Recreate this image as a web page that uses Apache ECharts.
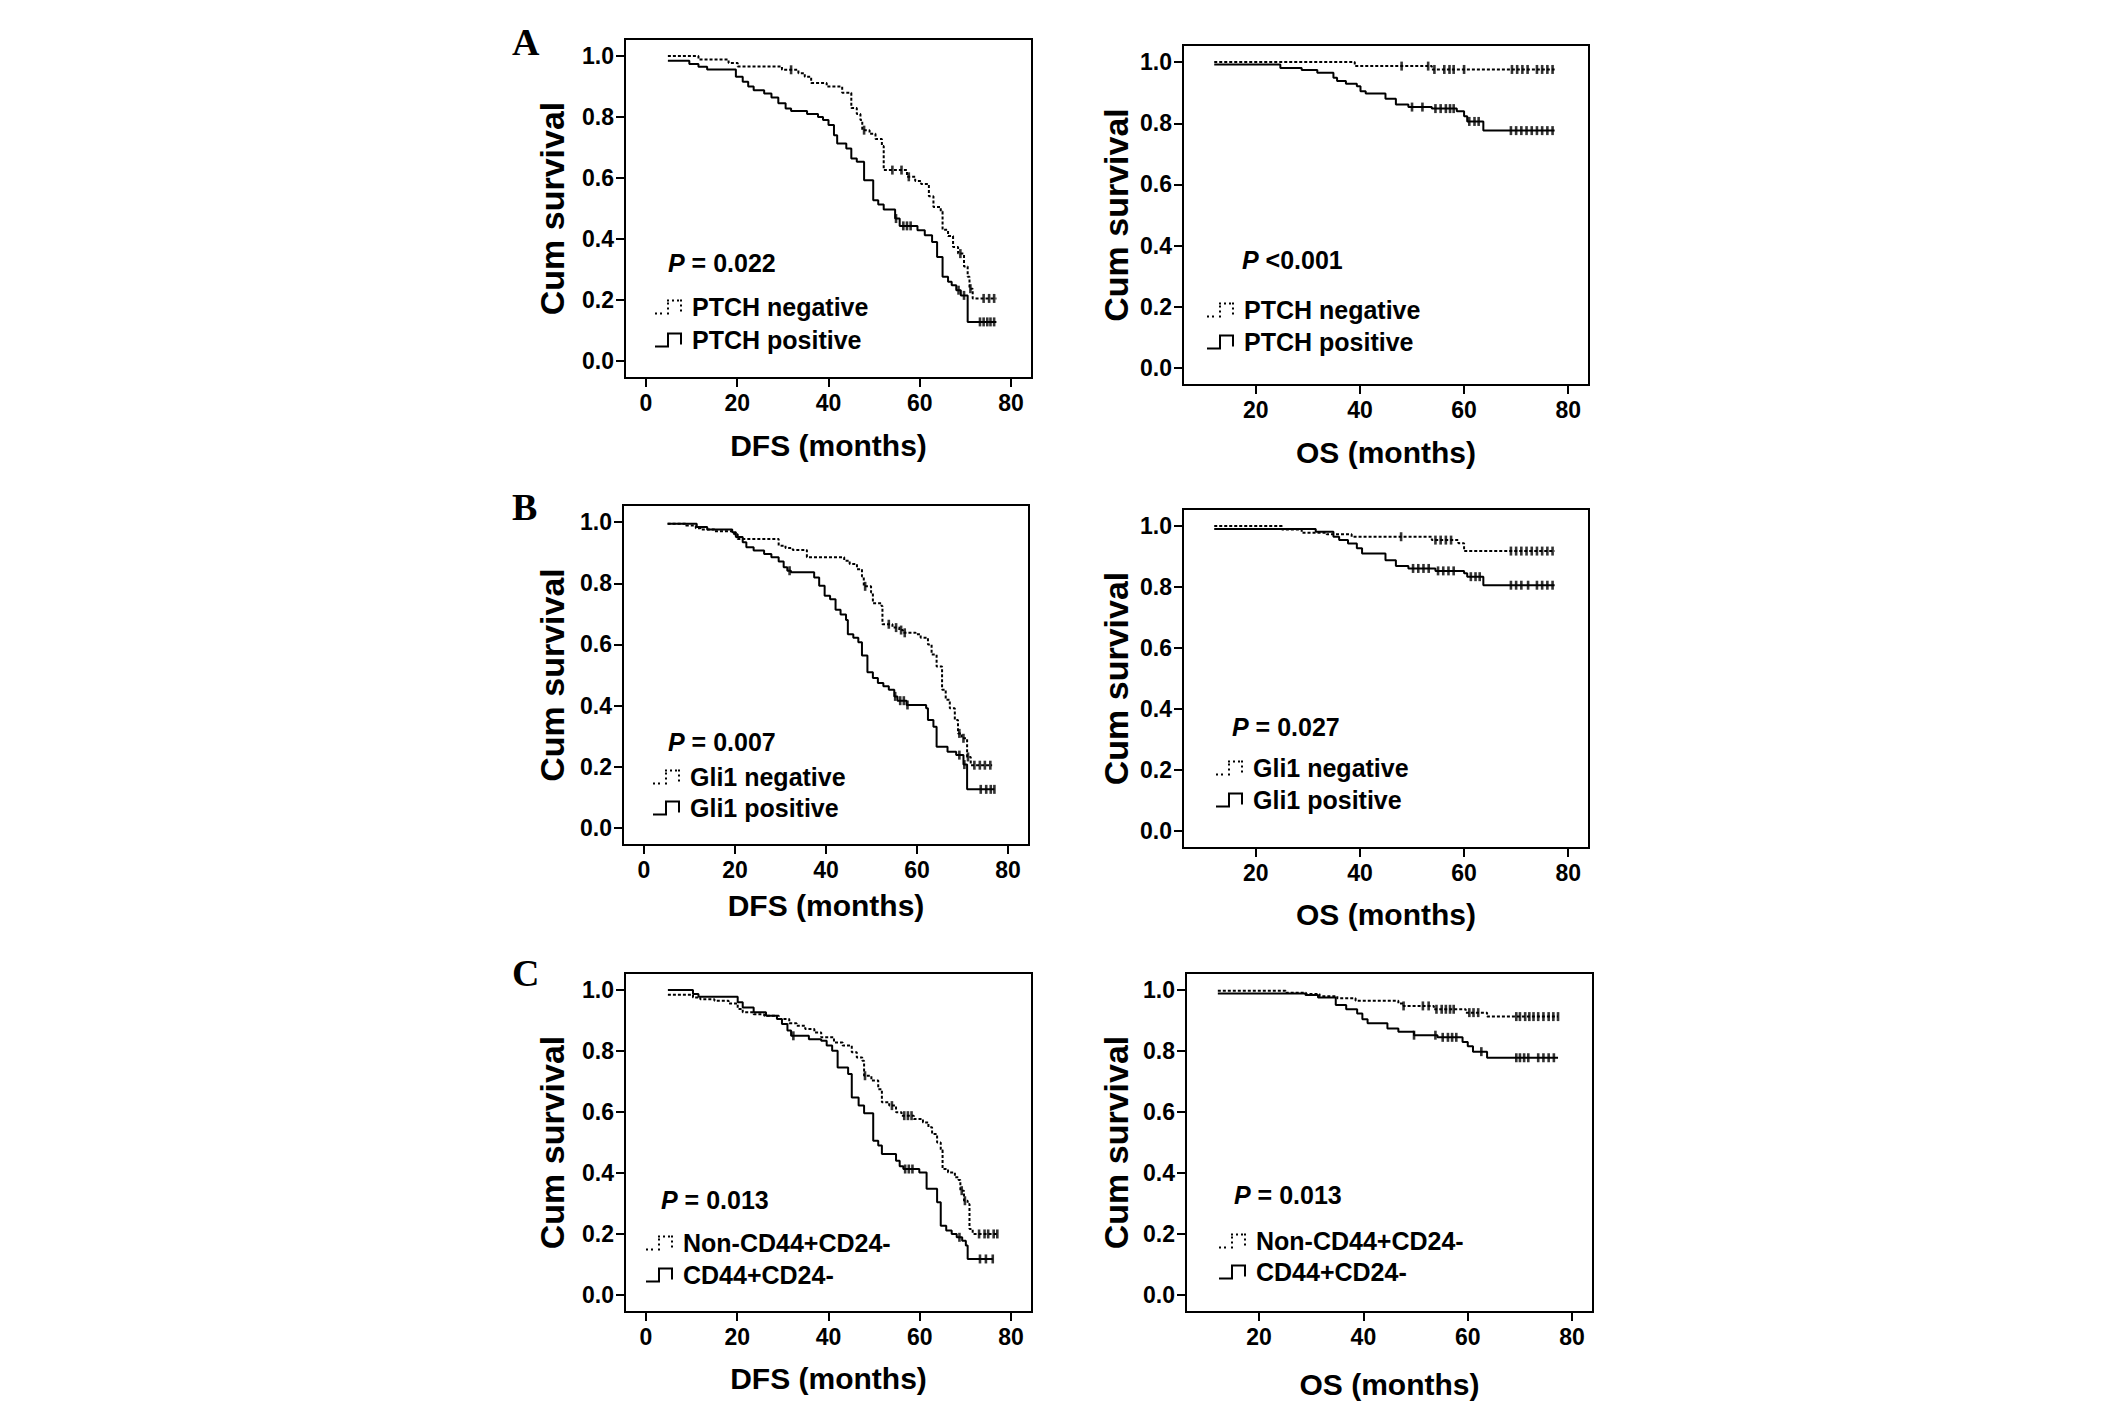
<!DOCTYPE html>
<html><head><meta charset="utf-8">
<script src="https://cdn.jsdelivr.net/npm/echarts@6/dist/echarts.min.js"></script>
<style>html,body{margin:0;padding:0;background:#fff}#c{width:2126px;height:1409px}</style>
</head><body><div id="c"></div>
<script>
// ---------------- DATA ----------------
// Kaplan-Meier step points: [month, cumulative survival] (value after the drop)
// Censor marks: months at which a "+" is drawn on the curve
const yTicks = [0, 0.2, 0.4, 0.6, 0.8, 1.0];
const dfsTicks = [0, 20, 40, 60, 80];
const osTicks = [20, 40, 60, 80];

// A: PTCH
const ptchNegDFS = [[4.8,1.0],[11.5,0.989],[18.1,0.977],[20.1,0.966],[29.8,0.955],[33.4,0.944],[34.8,0.932],[36.2,0.912],[39.6,0.90],[43,0.88],[45,0.83],[46.2,0.81],[47,0.79],[47.4,0.757],[49,0.745],[50.3,0.728],[51.7,0.705],[52.1,0.626],[57.2,0.604],[59,0.59],[60.3,0.58],[62,0.54],[63,0.505],[64.6,0.49],[65,0.43],[66.2,0.41],[67.3,0.374],[68.4,0.352],[69.7,0.31],[70.5,0.276],[70.9,0.237],[71.6,0.205],[76.8,0.205]];
const ptchNegDFSCens = [31.8,47.8,54,56,57.6,68.9,71.1,74,75.2,76.3];
const ptchPosDFS = [[4.8,0.985],[9.5,0.974],[11.5,0.965],[13.4,0.956],[19.7,0.932],[21.2,0.916],[22.4,0.90],[23.6,0.888],[25.9,0.877],[27.5,0.864],[29,0.845],[30.6,0.828],[31.8,0.82],[35.3,0.81],[37.7,0.80],[38.8,0.79],[40,0.774],[41.2,0.74],[41.9,0.713],[43.9,0.697],[45,0.664],[46.2,0.653],[47.8,0.593],[49.8,0.527],[50.9,0.513],[52.1,0.497],[54.6,0.467],[55.6,0.443],[59.5,0.429],[61.1,0.412],[62.7,0.39],[63.8,0.341],[65,0.276],[66.2,0.26],[67,0.248],[68,0.232],[69,0.215],[70.5,0.128],[76.8,0.128]];
const ptchPosDFSCens = [54.8,56.4,57.2,58,68.5,69.7,73.2,74,74.8,75.5,76.3];
const ptchNegOS = [[12,1.0],[39,0.987],[53.8,0.976],[77.4,0.976]];
const ptchNegOSCens = [48,53.1,54.3,56.2,57.2,58,60,69.2,70.2,71.2,72.2,74,75,76,77];
const ptchPosOS = [[12,0.992],[24.7,0.981],[28.8,0.974],[31.8,0.965],[34.9,0.949],[35.6,0.938],[37.3,0.929],[39.4,0.921],[40.1,0.905],[41.1,0.897],[44.9,0.88],[46.9,0.861],[49.3,0.853],[53.8,0.848],[58.6,0.839],[60,0.823],[60.6,0.806],[63.7,0.776],[77.4,0.776]];
const ptchPosOSCens = [50,52,54.5,55.5,56.5,57.3,58,61,62,62.8,69,70,71,72,73,74,75,76,77];

// B: Gli1
const gliNegDFS = [[5.2,0.995],[9.2,0.989],[11.4,0.98],[12.4,0.976],[15.5,0.97],[19.8,0.96],[20.6,0.945],[29.6,0.923],[31.1,0.915],[32.7,0.909],[35.8,0.885],[44,0.874],[45.2,0.863],[46.8,0.846],[47.9,0.822],[48.3,0.79],[49.9,0.77],[50.3,0.735],[52.2,0.726],[52.4,0.666],[54.6,0.655],[56.1,0.647],[56.9,0.638],[59.7,0.633],[60.8,0.622],[62.4,0.60],[63.2,0.567],[64.3,0.528],[65.5,0.452],[66.3,0.419],[67.2,0.391],[68.3,0.353],[69,0.309],[69.8,0.293],[71,0.232],[71.8,0.205],[76.5,0.205]];
const gliNegDFSCens = [48.6,53.8,55.4,56.5,57.3,69.3,70.2,71.2,72.6,73.8,74.9,76.1];
const gliPosDFS = [[5.2,0.995],[11.6,0.984],[13.9,0.976],[19.4,0.967],[20.2,0.951],[21.7,0.934],[22.5,0.918],[24.1,0.907],[26.4,0.896],[28,0.885],[29.6,0.871],[30.7,0.852],[31.5,0.841],[32.3,0.836],[37.4,0.819],[38.5,0.792],[39.7,0.759],[40.9,0.748],[42.1,0.713],[43.2,0.698],[44.4,0.68],[44.8,0.633],[46,0.622],[47.1,0.607],[47.9,0.564],[49.1,0.509],[50.3,0.49],[51.4,0.474],[52.6,0.463],[53.8,0.452],[55,0.43],[55.7,0.416],[57.7,0.402],[62,0.391],[62.4,0.353],[63.6,0.331],[64.3,0.265],[66.7,0.249],[68.6,0.238],[70.2,0.207],[71,0.126],[77,0.126]];
const gliPosDFSCens = [32,55.2,56.3,57.1,57.9,69.3,70.4,74,75.2,76.2,77];
const gliNegOS = [[12,1.0],[25,0.989],[28.8,0.978],[33.6,0.973],[38.4,0.965],[53.8,0.954],[58.9,0.944],[60,0.918],[77.4,0.918]];
const gliNegOSCens = [47.9,54.5,55.5,56.5,57.5,69,70,71,72,73,74,75,76,77];
const gliPosOS = [[12,0.99],[31.5,0.981],[34.9,0.965],[36,0.954],[37.7,0.943],[39.4,0.927],[40.4,0.91],[44.9,0.888],[46.9,0.869],[49.3,0.861],[54.5,0.853],[60,0.845],[60.6,0.834],[63.7,0.806],[77.4,0.806]];
const gliPosOSCens = [50.2,51.2,52.2,53.2,55,56,57,58,61.3,62.2,63,69,70,71,72.3,74,75,76,77];

// C: CD44+CD24-
const cdNegDFS = [[4.8,0.985],[10.3,0.976],[11.9,0.97],[15,0.965],[18.1,0.956],[20.1,0.938],[21.2,0.927],[23.6,0.921],[25.9,0.916],[29.1,0.905],[31.4,0.891],[33,0.883],[34.9,0.872],[36.9,0.861],[38.4,0.845],[41.2,0.828],[43.1,0.818],[45.1,0.796],[46.2,0.779],[47.4,0.768],[47.8,0.719],[49.4,0.703],[50.9,0.675],[51.7,0.632],[53.3,0.621],[54.8,0.599],[56,0.588],[58.7,0.577],[60.7,0.566],[61.9,0.55],[62.7,0.528],[63.8,0.50],[64.6,0.475],[65,0.413],[66.2,0.402],[67.7,0.386],[68.5,0.377],[68.9,0.342],[69.7,0.309],[70.5,0.298],[70.9,0.216],[71.6,0.20],[77,0.20]];
const cdNegDFSCens = [48,53.9,56.6,57.4,58.2,69.2,69.9,73,74.2,75,76.2,77];
const cdPosDFS = [[4.8,1.0],[10.3,0.987],[11.5,0.978],[20.1,0.96],[21.2,0.943],[23.6,0.927],[26.3,0.916],[28.7,0.905],[29.8,0.889],[31,0.867],[31.8,0.85],[35.7,0.839],[38.4,0.834],[39.6,0.818],[40.8,0.801],[42,0.746],[44.3,0.725],[45.1,0.648],[46.6,0.621],[47.8,0.596],[49.8,0.506],[50.9,0.49],[51.7,0.462],[54.8,0.44],[55.6,0.422],[56.4,0.413],[59.9,0.402],[61.5,0.348],[63.8,0.304],[64.6,0.227],[65.8,0.211],[67,0.20],[68.1,0.189],[69.3,0.178],[70.1,0.162],[70.5,0.118],[76,0.118]];
const cdPosDFSCens = [32.3,56.8,57.6,58.4,68.7,73.2,74.5,76];
const cdNegOS = [[12.1,0.998],[25.1,0.991],[29,0.987],[31.6,0.98],[35,0.973],[38.5,0.965],[46.7,0.956],[47.7,0.948],[53.5,0.937],[59.6,0.926],[63.7,0.913],[77.3,0.913]];
const cdNegOSCens = [47.7,51.4,52.5,54,55,55.8,56.6,57.3,60.3,61.1,62,69.3,70,71,71.8,72.6,73.5,74.5,75.5,76.4,77.3];
const cdPosOS = [[12.1,0.989],[28.9,0.984],[31.3,0.976],[34.7,0.951],[36.7,0.937],[38.8,0.923],[39.8,0.904],[40.8,0.891],[44.6,0.874],[46.7,0.863],[49.7,0.852],[54.2,0.845],[59,0.83],[60,0.816],[61,0.798],[63.7,0.778],[77.3,0.778]];
const cdPosOSCens = [49.7,53.8,55.2,56.2,57,57.8,62.6,69.3,70,70.8,71.6,73.5,74.5,75.5,76.5];

const groupNames = [['PTCH negative','PTCH positive'],['Gli1 negative','Gli1 positive'],['Non-CD44+CD24-','CD44+CD24-']];
const pValues = ['= 0.022','<0.001','= 0.007','= 0.027','= 0.013','= 0.013'];
const panelLetters = ['A','B','C'];

// ---------------- LAYOUT ----------------
const FONT = '"Liberation Sans", Arial, Helvetica, sans-serif';
const SERIF = '"Liberation Serif", "Times New Roman", serif';
const panels = [
  {g:[625,39,407,339], dfs:true, neg:ptchNegDFS, negC:ptchNegDFSCens, pos:ptchPosDFS, posC:ptchPosDFSCens, grp:0, p:0, yGap:56, xGap:52, pPos:[668,263], leg:[655,307,33]},
  {g:[1183,45,406,340], dfs:false, neg:ptchNegOS, negC:ptchNegOSCens, pos:ptchPosOS, posC:ptchPosOSCens, grp:0, p:1, yGap:50, xGap:52, pPos:[1242,260], leg:[1207,310,32]},
  {g:[623,505,406,340], dfs:true, neg:gliNegDFS, negC:gliNegDFSCens, pos:gliPosDFS, posC:gliPosDFSCens, grp:1, p:2, yGap:54, xGap:45, pPos:[668,742], leg:[653,777,31]},
  {g:[1183,509,406,339], dfs:false, neg:gliNegOS, negC:gliNegOSCens, pos:gliPosOS, posC:gliPosOSCens, grp:1, p:3, yGap:50, xGap:51, pPos:[1232,727], leg:[1216,768,32]},
  {g:[625,973,407,339], dfs:true, neg:cdNegDFS, negC:cdNegDFSCens, pos:cdPosDFS, posC:cdPosDFSCens, grp:2, p:4, yGap:56, xGap:51, pPos:[661,1200], leg:[646,1243,32]},
  {g:[1186,973,407,339], dfs:false, neg:cdNegOS, negC:cdNegOSCens, pos:cdPosOS, posC:cdPosOSCens, grp:2, p:5, yGap:53, xGap:57, pPos:[1234,1195], leg:[1219,1241,31]}
];
const letterPos = [[512,23],[512,488],[512,954]];

function survAt(steps, t) {
  let s = steps[0][1];
  for (const [ti, si] of steps) { if (ti <= t) s = si; else break; }
  return s;
}
function dotsPath(dots) {
  return 'path://' + dots.map(([x,y]) => `M${x},${y}L${x+2},${y}L${x+2},${y+2}L${x},${y+2}Z`).join(' ');
}
const SOLID_ICON = 'path://M0,13L13,13L13,15L0,15Z M12,0L14,0L14,15L12,15Z M12,0L27,0L27,2L12,2Z M25,0L27,0L27,12L25,12Z';
const DOTTED_ICON = dotsPath([[0,13],[5,13],[12,13],[12,8],[12,3],[12,0],[17,0],[22,0],[25,0],[25,5],[25,10]]);

const grids = [], xAxes = [], yAxes = [], series = [], legends = [], titles = [];
const lblStyle = {fontFamily: FONT, fontWeight: 'bold', color: '#000'};

panels.forEach((p, i) => {
  grids.push({left:p.g[0], top:p.g[1], width:p.g[2], height:p.g[3], show:true, borderColor:'#000', borderWidth:2, backgroundColor:'rgba(0,0,0,0)', containLabel:false, outerBoundsMode:'none'});
  const ticks = p.dfs ? dfsTicks : osTicks;
  xAxes.push({type:'value', gridIndex:i, min: p.dfs ? -4.6 : 6, max: p.dfs ? 84.6 : 84,
    axisLine:{show:false, onZero:false},
    axisTick:{show:true, length:9, customValues:ticks, lineStyle:{color:'#000', width:2}},
    axisLabel:Object.assign({customValues:ticks, margin:13, fontSize:23, formatter:v => String(v)}, lblStyle),
    splitLine:{show:false},
    name: p.dfs ? 'DFS (months)' : 'OS (months)', nameLocation:'middle', nameGap:p.xGap,
    nameTextStyle:Object.assign({fontSize:30}, lblStyle)});
  yAxes.push({type:'value', gridIndex:i, min:-0.056, max:1.056,
    axisLine:{show:false, onZero:false},
    axisTick:{show:true, length:9, customValues:yTicks, lineStyle:{color:'#000', width:2}},
    axisLabel:Object.assign({customValues:yTicks, margin:11, fontSize:23, formatter:v => v.toFixed(1)}, lblStyle),
    splitLine:{show:false},
    name:'Cum survival', nameLocation:'middle', nameRotate:90, nameGap:p.yGap,
    nameTextStyle:Object.assign({fontSize:34}, lblStyle)});
  const [negName, posName] = groupNames[p.grp];
  series.push({type:'line', name:negName, xAxisIndex:i, yAxisIndex:i, data:p.neg, step:'end', showSymbol:false, symbol:'none', silent:true,
    lineStyle:{color:'#000', width:2, type:[3,2]}, itemStyle:{color:'#000'}, z:3});
  series.push({type:'line', name:posName, xAxisIndex:i, yAxisIndex:i, data:p.pos, step:'end', showSymbol:false, symbol:'none', silent:true,
    lineStyle:{color:'#000', width:2, type:'solid'}, itemStyle:{color:'#000'}, z:3});
  series.push({type:'scatter', name:'censored-neg-' + i, xAxisIndex:i, yAxisIndex:i, silent:true, symbol:'rect', symbolSize:[2.6,9],
    data:p.negC.map(t => [t, survAt(p.neg, t)]), itemStyle:{color:'#000'}, z:4});
  series.push({type:'scatter', name:'censored-pos-' + i, xAxisIndex:i, yAxisIndex:i, silent:true, symbol:'rect', symbolSize:[2.6,9],
    data:p.posC.map(t => [t, survAt(p.pos, t)]), itemStyle:{color:'#000'}, z:4});
  legends.push({show:true, orient:'vertical', left:p.leg[0], top:p.leg[1] - 13, padding:0, itemWidth:27, itemHeight:15, itemGap:p.leg[2] - 26,
    selectedMode:false, symbolKeepAspect:true,
    itemStyle:{color:'#000', borderWidth:0},
    data:[{name:negName, icon:DOTTED_ICON}, {name:posName, icon:SOLID_ICON}],
    textStyle:Object.assign({fontSize:25, lineHeight:26, padding:[0,0,0,5]}, lblStyle)});
  const italicP = Object.assign({fontSize:25, lineHeight:28, fontStyle:'italic'}, lblStyle);
  titles.push({text:'{i|P} ' + pValues[p.p], left:p.pPos[0], top:p.pPos[1] - 14, padding:0,
    textStyle:Object.assign({fontSize:25, lineHeight:28, rich:{i:italicP}}, lblStyle)});
});
panelLetters.forEach((L, k) => {
  titles.push({text:L, left:letterPos[k][0], top:letterPos[k][1], padding:0,
    textStyle:{fontFamily:SERIF, fontSize:38, lineHeight:38, fontWeight:'bold', color:'#000'}});
});

const chart = echarts.init(document.getElementById('c'), null, {renderer:'svg'});
chart.setOption({
  animation:false,
  backgroundColor:'#fff',
  title:titles, grid:grids, xAxis:xAxes, yAxis:yAxes, legend:legends, series:series
});
</script></body></html>
